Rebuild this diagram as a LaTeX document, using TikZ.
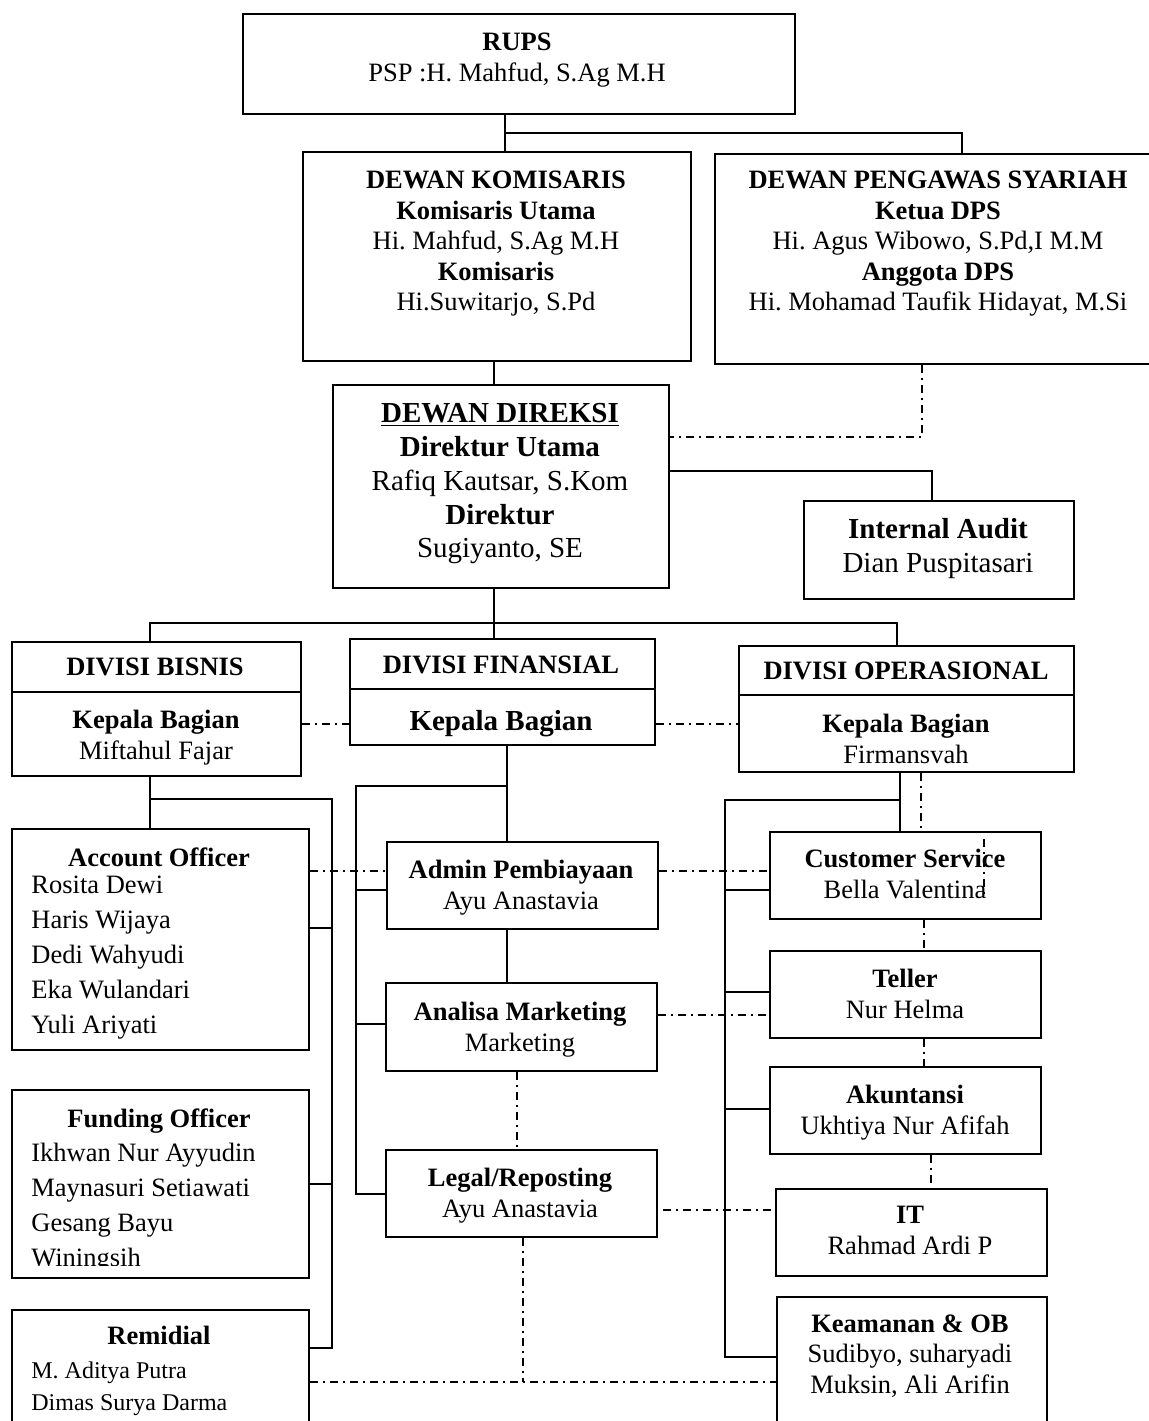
\documentclass[tikz,border=0pt]{standalone}
\usepackage{fontspec}
\setmainfont{Liberation Serif}
\frenchspacing
\newcommand\fsn{\fontsize{13.25pt}{15.25pt}\selectfont}
\newcommand\fsb{\fontsize{14.5pt}{16.9pt}\selectfont}
\newcommand\fss{\fontsize{12pt}{16pt}\selectfont}
\newcommand\fsl{\fontsize{13.25pt}{17.5pt}\selectfont}
\tikzset{
  unitbox/.style 2 args={draw, line width=0.9pt, inner sep=0pt, anchor=north west,
    minimum width=#1*0.5pt, minimum height=#2*0.5pt},
  lbl/.style={inner sep=0pt, align=center, anchor=north, font=\fsn},
  names/.style={inner sep=0pt, align=left, anchor=north west, font=\fsl},
  link/.style={line width=0.8pt},
  dotlink/.style={line width=0.8pt, dash pattern=on 4pt off 2.5pt on 1pt off 2.5pt},
}
\begin{document}
\begin{tikzpicture}[x=0.5pt, y=-0.5pt]
      \useasboundingbox (0,0) rectangle (1149,1421);
      \node[unitbox={552}{100}] (rups) at (242,13) {};
      \node[unitbox={388}{209}] (dk) at (302,151) {};
      \node[unitbox={456}{210}] (dps) at (714,153) {};
      \node[unitbox={336}{203}] (dd) at (332,384) {};
      \node[unitbox={270}{98}] (ia) at (803,500) {};
      \node[unitbox={289}{134}] (bisnis) at (11,641) {};
      \node[unitbox={305}{106}] (fin) at (349,638) {};
      \node[unitbox={335}{126}] (opr) at (738,645) {};
      \node[unitbox={297}{221}] (ao) at (11,828) {};
      \node[unitbox={297}{188}] (fo) at (11,1089) {};
      \node[unitbox={297}{131}] (rem) at (11,1309) {};
      \node[unitbox={271}{87}] (adm) at (386,841) {};
      \node[unitbox={271}{88}] (ana) at (385,982) {};
      \node[unitbox={271}{87}] (leg) at (385,1149) {};
      \node[unitbox={271}{87}] (cs) at (769,831) {};
      \node[unitbox={271}{87}] (tel) at (769,950) {};
      \node[unitbox={271}{87}] (aku) at (769,1066) {};
      \node[unitbox={271}{87}] (it) at (775,1188) {};
      \node[unitbox={270}{144}] (kea) at (776,1296) {};
      \draw[line width=0.9pt] (bisnis.north west) ++(0,51) -- +(289,0);
      \draw[line width=0.9pt] (fin.north west) ++(0,51) -- +(305,0);
      \draw[line width=0.9pt] (opr.north west) ++(0,50) -- +(335,0);

      % texts
      \node[lbl] (rupst) at (517,33) {\textbf{RUPS}\\PSP :H. Mahfud, S.Ag M.H};
      \node[lbl] (dkt) at (496,171) {\textbf{DEWAN KOMISARIS}\\\textbf{Komisaris Utama}\\Hi. Mahfud, S.Ag M.H\\\textbf{Komisaris}\\Hi.Suwitarjo, S.Pd};
      \node[lbl] (dpst) at (938,171) {\textbf{DEWAN PENGAWAS SYARIAH}\\\textbf{Ketua DPS}\\Hi. Agus Wibowo, S.Pd,I M.M\\\textbf{Anggota DPS}\\Hi. Mohamad Taufik Hidayat, M.Si};
      \node[lbl, font=\fsb] (ddt) at (500,403) {\textbf{\underline{DEWAN DIREKSI}}\\\textbf{Direktur Utama}\\Rafiq Kautsar, S.Kom\\\textbf{Direktur}\\Sugiyanto, SE};
      \node[lbl, font=\fsb] (iat) at (938,518) {\textbf{Internal Audit}\\Dian Puspitasari};
      \node[lbl] (bisnish) at (155,658) {\textbf{DIVISI BISNIS}};
      \node[lbl] (bisnist) at (156,710) {\textbf{Kepala Bagian}\\Miftahul Fajar};
      \node[lbl] (finh) at (501,656) {\textbf{DIVISI FINANSIAL}};
      \node[lbl, font=\fsb] (fint) at (501,710) {\textbf{Kepala Bagian}};
      \node[lbl] (oprh) at (906,662) {\textbf{DIVISI OPERASIONAL}};
      \node[lbl] (oprt) at (906,714) {\textbf{Kepala Bagian}\\Firmansvah};
      \node[lbl] (aot) at (159,847) {\textbf{Account Officer}};
      \node[names] (aon) at (31,876) {Rosita Dewi\\Haris Wijaya\\Dedi Wahyudi\\Eka Wulandari\\Yuli Ariyati};
      \node[lbl] (fot) at (159,1108) {\textbf{Funding Officer}};
      \begin{scope}
        \clip (11,1089) rectangle (308,1265);
        \node[names] (fon) at (31,1143) {Ikhwan Nur Ayyudin\\Maynasuri Setiawati\\Gesang Bayu\\Winingsih};
      \end{scope}
      \node[lbl] (remt) at (159,1326) {\textbf{Remidial}};
      \node[names, font=\fss] (remn) at (31,1361) {M. Aditya Putra\\Dimas Surya Darma};
      \node[lbl] (admt) at (521,860) {\textbf{Admin Pembiayaan}\\Ayu Anastavia};
      \node[lbl] (anat) at (520,1002) {\textbf{Analisa Marketing}\\Marketing};
      \node[lbl] (legt) at (520,1168) {\textbf{Legal/Reposting}\\Ayu Anastavia};
      \node[lbl] (cst) at (905,849) {\textbf{Customer Service}\\Bella Valentina};
      \node[lbl] (telt) at (905,969) {\textbf{Teller}\\Nur Helma};
      \node[lbl] (akut) at (905,1085) {\textbf{Akuntansi}\\Ukhtiya Nur Afifah};
      \node[lbl] (itt) at (910,1206) {\textbf{IT}\\Rahmad Ardi P};
      \node[lbl] (keat) at (910,1314) {\textbf{Keamanan \& OB}\\Sudibyo, suharyadi\\Muksin, Ali Arifin};

      % top levels
      \coordinate (r1) at (505,133);
      \coordinate (r2) at (962,133);
      \draw[link] (r1 |- rups.south) -- (r1 |- dk.north);
      \draw[link] (r1) -- (r2) -- (r2 |- dps.north);
      \coordinate (k1) at (494,372);
      \draw[link] (k1 |- dk.south) -- (k1 |- dd.north);
      \coordinate (s1) at (922,437);
      \draw[dotlink] (s1 |- dps.south) -- (s1) -- (s1 -| dd.east);
      \coordinate (a1) at (932,471);
      \draw[link] (a1 -| dd.east) -- (a1) -- (a1 |- ia.north);
      \coordinate (d0) at (494,623);
      \coordinate (d1) at (150,623);
      \coordinate (d3) at (897,623);
      \draw[link] (d0 |- dd.south) -- (d0) -- (d0 |- fin.north);
      \draw[link] (d1 |- bisnis.north) -- (d1) -- (d3) -- (d3 |- opr.north);
      \coordinate (h1) at (0,724);
      \draw[dotlink] (h1 -| bisnis.east) -- (h1 -| fin.west);
      \draw[dotlink] (h1 -| fin.east) -- (h1 -| opr.west);

      % divisi bisnis
      \coordinate (b1) at (150,799);
      \coordinate (b2) at (332,799);
      \coordinate (b3) at (332,1348);
      \coordinate (b4) at (332,928);
      \coordinate (b5) at (332,1184);
      \draw[link] (b1 |- bisnis.south) -- (b1 |- ao.north);
      \draw[link] (b1) -- (b2) -- (b3) -- (b3 -| rem.east);
      \draw[link] (b4) -- (b4 -| ao.east);
      \draw[link] (b5) -- (b5 -| fo.east);

      % divisi finansial
      \coordinate (f1) at (507,786);
      \coordinate (f2) at (356,786);
      \coordinate (f3) at (356,1194);
      \coordinate (f4) at (356,890);
      \coordinate (f5) at (356,1024);
      \coordinate (f6) at (517,1100);
      \draw[link] (f1 |- fin.south) -- (f1 |- adm.north);
      \draw[link] (f1) -- (f2) -- (f3) -- (f3 -| leg.west);
      \draw[link] (f4) -- (f4 -| adm.west);
      \draw[link] (f5) -- (f5 -| ana.west);
      \draw[link] (f1 |- adm.south) -- (f1 |- ana.north);
      \draw[dotlink] (f6 |- ana.south) -- (f6 |- leg.north);

      % divisi operasional
      \coordinate (o1) at (900,800);
      \coordinate (o2) at (725,800);
      \coordinate (o3) at (725,1357);
      \coordinate (o4) at (725,890);
      \coordinate (o5) at (725,992);
      \coordinate (o6) at (725,1109);
      \coordinate (o7) at (921,800);
      \coordinate (o8) at (924,1000);
      \coordinate (o9) at (931,1170);
      \draw[link] (o1 |- opr.south) -- (o1 |- cs.north);
      \draw[link] (o1) -- (o2) -- (o3) -- (o3 -| kea.west);
      \draw[link] (o4) -- (o4 -| cs.west);
      \draw[link] (o5) -- (o5 -| tel.west);
      \draw[link] (o6) -- (o6 -| aku.west);
      \draw[dotlink] (o7 |- opr.south) -- (o7 |- cs.north);
      \draw[dotlink] (o8 |- cs.south) -- (o8 |- tel.north);
      \draw[dotlink] (o8 |- tel.south) -- (o8 |- aku.north);
      \draw[dotlink] (o9 |- aku.south) -- (o9 |- it.north);
      \draw[dotlink] (984,839) -- (984,897);

      % lintas bagian
      \coordinate (x1) at (700,871);
      \coordinate (x2) at (700,1015);
      \coordinate (x3) at (663,1210);
      \coordinate (x4) at (523,1382);
      \draw[dotlink] (x1 -| ao.east) -- (x1 -| adm.west);
      \draw[dotlink] (x1 -| adm.east) -- (x1 -| cs.west);
      \draw[dotlink] (x2 -| ana.east) -- (x2 -| tel.west);
      \draw[dotlink] (x3) -- (x3 -| it.west);
      \draw[dotlink] (x4 |- leg.south) -- (x4);
      \draw[dotlink] (x4 -| rem.east) -- (x4 -| kea.west);
    \end{tikzpicture}
\end{document}
